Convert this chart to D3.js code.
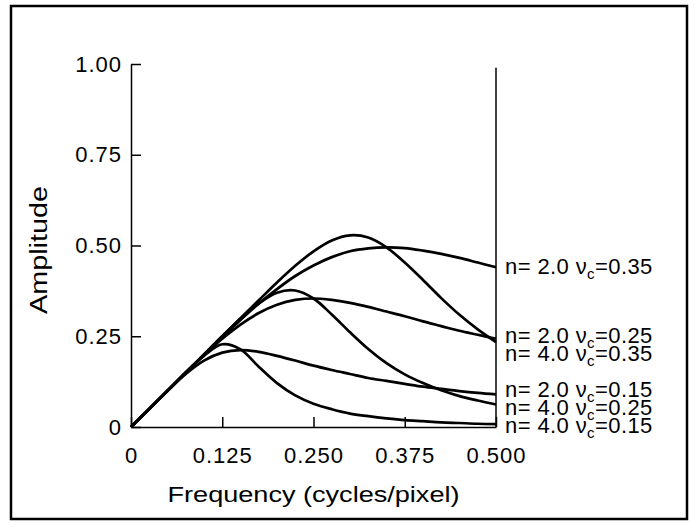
<!DOCTYPE html>
<html>
<head>
<meta charset="utf-8">
<script src="https://cdn.jsdelivr.net/npm/d3@7"></script>
<style>
  body { margin: 0; background: #fff; }
  svg { display: block; font-family: "Liberation Sans", Arial, sans-serif; }
</style>
</head>
<body>
<svg width="695" height="527"></svg>
<script>
// frequency samples (cycles/pixel)
const freq = [0, 0.025, 0.05, 0.075, 0.1, 0.125, 0.15, 0.175, 0.2, 0.225, 0.25,
              0.275, 0.3, 0.325, 0.35, 0.375, 0.4, 0.425, 0.45, 0.475, 0.5];

// amplitudes, one array per curve
const n2c35 = [0, 0.050, 0.100, 0.150, 0.199, 0.248, 0.295, 0.340, 0.380, 0.416, 0.445,
               0.468, 0.484, 0.492, 0.495, 0.493, 0.486, 0.477, 0.466, 0.453, 0.440];
const n2c25 = [0, 0.050, 0.100, 0.149, 0.198, 0.243, 0.282, 0.314, 0.337, 0.350, 0.354,
               0.350, 0.342, 0.331, 0.318, 0.305, 0.291, 0.278, 0.265, 0.254, 0.243];
const n4c35 = [0, 0.050, 0.100, 0.150, 0.200, 0.250, 0.300, 0.349, 0.398, 0.444, 0.484,
               0.514, 0.528, 0.522, 0.495, 0.453, 0.405, 0.355, 0.309, 0.269, 0.234];
const n2c15 = [0, 0.050, 0.099, 0.146, 0.183, 0.205, 0.212, 0.207, 0.196, 0.183, 0.169,
               0.157, 0.146, 0.135, 0.127, 0.119, 0.111, 0.105, 0.099, 0.094, 0.090];
const n4c25 = [0, 0.050, 0.100, 0.150, 0.200, 0.250, 0.298, 0.340, 0.370, 0.376, 0.354,
               0.310, 0.261, 0.215, 0.176, 0.145, 0.121, 0.101, 0.085, 0.073, 0.062];
const n4c15 = [0, 0.050, 0.100, 0.150, 0.196, 0.228, 0.214, 0.166, 0.121, 0.087, 0.064,
               0.049, 0.037, 0.030, 0.024, 0.019, 0.016, 0.013, 0.011, 0.009, 0.008];

const curves = [n2c35, n2c25, n4c35, n2c15, n4c25, n4c15];

// right-hand labels: order, cutoff, amplitude where the label sits
const labelN  = ["2.0", "2.0", "4.0", "2.0", "4.0", "4.0"];
const labelVc = ["0.35", "0.25", "0.35", "0.15", "0.25", "0.15"];
const labelAt = [0.442, 0.254, 0.204, 0.105, 0.055, 0.006];

const xTicks = [0, 0.125, 0.25, 0.375, 0.5];
const yTicks = [0, 0.25, 0.5, 0.75, 1.0];

const svg = d3.select('svg');

// frame round the figure
svg.append('rect')
   .attr('x', 11).attr('y', 6)
   .attr('width', 676).attr('height', 513)
   .style('fill', 'none')
   .style('stroke', '#000')
   .style('stroke-width', 2.5);

const x = d3.scaleLinear().domain([0, 0.5]).range([131, 496]);
const y = d3.scaleLinear().domain([0, 1]).range([427, 64]);

const xAxis = d3.axisBottom(x)
   .tickValues(xTicks)
   .tickSizeInner(-10).tickSizeOuter(0).tickPadding(20)
   .tickFormat(d => d === 0 ? '0' : d3.format('.3f')(d));

const yAxis = d3.axisLeft(y)
   .tickValues(yTicks)
   .tickSizeInner(-10).tickSizeOuter(0).tickPadding(9)
   .tickFormat(d => d === 0 ? '0' : d3.format('.2f')(d));

const gx = svg.append('g').attr('transform', `translate(0, ${y(0)})`).call(xAxis);
const gy = svg.append('g').attr('transform', `translate(${x(0)}, 0)`).call(yAxis);

[gx, gy].forEach(g => {
  g.selectAll('path, line').style('stroke', '#000').style('stroke-width', 1.5);
  g.selectAll('text')
   .style('font-size', '22px')
   .style('letter-spacing', '1px')
   .style('fill', '#000')
   .style('font-family', '"Liberation Sans", Arial, sans-serif');
});

// vertical line closing the plot at 0.5
svg.append('line')
   .attr('x1', x(0.5)).attr('x2', x(0.5))
   .attr('y1', y(0)).attr('y2', y(0.99))
   .style('stroke', '#000')
   .style('stroke-width', 1.5);

const line = d3.line()
   .x((d, i) => x(freq[i]))
   .y(d => y(d))
   .curve(d3.curveCatmullRom);

svg.append('g')
   .selectAll('path')
   .data(curves)
   .enter()
   .append('path')
   .attr('d', line)
   .style('fill', 'none')
   .style('stroke', '#000')
   .style('stroke-width', 2.7)
   .style('stroke-linejoin', 'round');

// curve labels
const labs = svg.append('g')
   .selectAll('text')
   .data(labelAt)
   .enter()
   .append('text')
   .attr('x', 505)
   .attr('y', d => y(d))
   .attr('dy', '0.36em')
   .style('font-size', '22px')
   .style('letter-spacing', '0.4px')
   .style('fill', '#000');

labs.append('tspan').text((d, i) => `n= ${labelN[i]} \u03bd`);
labs.append('tspan').text('c').attr('dy', 5).style('font-size', '15px');
labs.append('tspan').text((d, i) => `=${labelVc[i]}`).attr('dy', -5);

// axis titles
svg.append('text')
   .text('Frequency (cycles/pixel)')
   .attr('x', (x(0) + x(0.5)) / 2)
   .attr('y', 502)
   .attr('textLength', 292)
   .attr('lengthAdjust', 'spacingAndGlyphs')
   .style('text-anchor', 'middle')
   .style('font-size', '22px')
   .style('fill', '#000');

svg.append('text')
   .text('Amplitude')
   .attr('transform', 'translate(47, 250) rotate(-90)')
   .attr('textLength', 128)
   .attr('lengthAdjust', 'spacingAndGlyphs')
   .style('text-anchor', 'middle')
   .style('font-size', '23px')
   .style('fill', '#000');
</script>
</body>
</html>
